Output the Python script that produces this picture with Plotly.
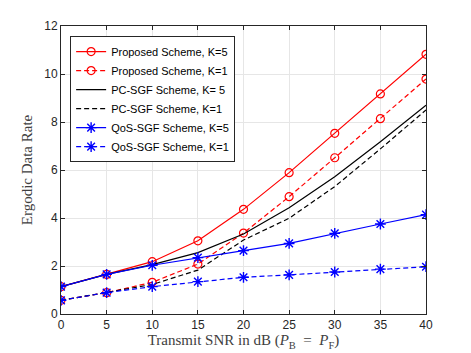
import plotly.graph_objects as go

# SNR in dB
snr = [0, 5, 10, 15, 20, 25, 30, 35, 40]

# ergodic data rate
prop_k5 = [1.14, 1.65, 2.18, 3.05, 4.36, 5.89, 7.53, 9.17, 10.82]
prop_k1 = [0.57, 0.89, 1.32, 2.08, 3.37, 4.89, 6.51, 8.14, 9.79]
pc_k5 = [1.14, 1.65, 2.06, 2.56, 3.33, 4.43, 5.72, 7.18, 8.70]
pc_k1 = [0.57, 0.89, 1.23, 1.83, 3.08, 3.99, 5.31, 6.88, 8.50]
qos_k5 = [1.14, 1.65, 2.03, 2.35, 2.64, 2.94, 3.36, 3.75, 4.14]
qos_k1 = [0.57, 0.89, 1.14, 1.35, 1.53, 1.63, 1.75, 1.87, 1.97]

dash = '5px,3px'
circle = dict(symbol='circle-open', size=8, color='red', line=dict(width=1.2))
star = dict(symbol='asterisk-open', size=9, color='blue', line=dict(width=1.4, color='blue'))

fig = go.Figure()

# Proposed scheme - red with open circles
fig.add_trace(go.Scatter(x=snr, y=prop_k5, mode='lines+markers', name='Proposed Scheme, K=5',
                         line=dict(color='red', width=1.2), marker=circle))
fig.add_trace(go.Scatter(x=snr, y=prop_k1, mode='lines+markers', name='Proposed Scheme, K=1',
                         line=dict(color='red', width=1.2, dash=dash), marker=circle))

# PC-SGF - black, no markers
fig.add_trace(go.Scatter(x=snr, y=pc_k5, mode='lines', name='PC-SGF Scheme, K= 5',
                         line=dict(color='black', width=1.2)))
fig.add_trace(go.Scatter(x=snr, y=pc_k1, mode='lines', name='PC-SGF Scheme, K=1',
                         line=dict(color='black', width=1.2, dash=dash)))

# QoS-SGF - blue with asterisks
fig.add_trace(go.Scatter(x=snr, y=qos_k5, mode='lines+markers', name='QoS-SGF Scheme, K=5',
                         line=dict(color='blue', width=1.2), marker=star))
fig.add_trace(go.Scatter(x=snr, y=qos_k1, mode='lines+markers', name='QoS-SGF Scheme, K=1',
                         line=dict(color='blue', width=1.2, dash=dash), marker=star))

axis_style = dict(showline=True, linecolor='#262626', linewidth=1, mirror='ticks',
                  ticks='inside', ticklen=4, tickcolor='#262626',
                  showgrid=True, gridcolor='#e6e6e6', gridwidth=1, zeroline=False,
                  automargin=False,
                  tickfont=dict(family='Liberation Sans, Arial', size=12, color='#262626'))

serif = dict(family='Liberation Serif, Times New Roman', size=15, color='#404040')

fig.update_xaxes(range=[0, 40], tick0=0, dtick=5,
                 title=dict(text='Transmit SNR in dB (<i>P</i><sub>B</sub> &nbsp;=&nbsp; <i>P</i><sub>F</sub>)',
                            font=serif, standoff=1),
                 **axis_style)
fig.update_yaxes(range=[0, 12], tick0=0, dtick=2,
                 title=dict(text='Ergodic Data Rate', font=serif, standoff=7),
                 **axis_style)

# page body adds an 8px margin, so the figure is sized to fit after it
fig.update_layout(
    width=463, height=345,
    margin=dict(l=53, r=45, t=18, b=39),
    plot_bgcolor='white', paper_bgcolor='white',
    showlegend=True,
    legend=dict(x=0.025, y=0.965, xanchor='left', yanchor='top',
                bgcolor='white', bordercolor='#262626', borderwidth=1,
                font=dict(family='Liberation Sans, Arial', size=11, color='black'),
                itemwidth=30, tracegroupgap=0),
)

fig.write_html("out.html")
